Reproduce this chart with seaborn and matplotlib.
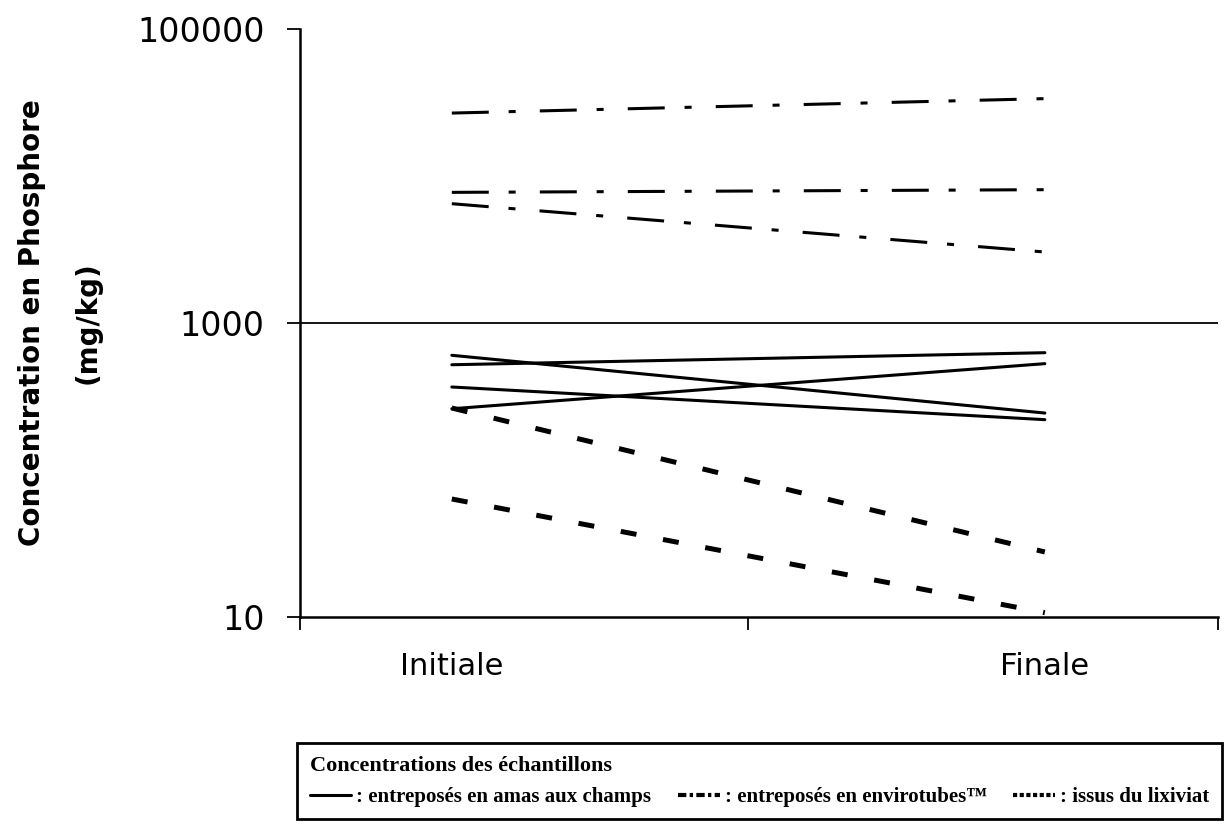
import pandas as pd
import seaborn as sns
import matplotlib.pyplot as plt
from matplotlib.lines import Line2D
from matplotlib.ticker import FixedLocator, NullLocator, FuncFormatter

# sampling steps (x positions 0 = Initiale, 1 = Finale)
etapes = ['Initiale', 'Finale']

# phosphore concentrations (mg/kg), one value per sample
amas_initiale = [603, 520, 367, 261]
amas_finale = [244, 628, 220, 529]
envirotubes_initiale = [26800, 7740, 6480]
envirotubes_finale = [33600, 8070, 3040]
lixiviat_initiale = [264, 63.5]
lixiviat_finale = [27.7, 10.7]

groupes = ['amas', 'envirotubes', 'lixiviat']
legend_labels = [': entreposés en amas aux champs',
                 ': entreposés en envirotubes™',
                 ': issus du lixiviat']

rows = []
for g, ini, fin in [('amas', amas_initiale, amas_finale),
                    ('envirotubes', envirotubes_initiale, envirotubes_finale),
                    ('lixiviat', lixiviat_initiale, lixiviat_finale)]:
    for i, (a, b) in enumerate(zip(ini, fin)):
        rows.append({'groupe': g, 'echantillon': f'{g}{i}', 'x': 0, 'conc': a})
        rows.append({'groupe': g, 'echantillon': f'{g}{i}', 'x': 1, 'conc': b})
df = pd.DataFrame(rows)

sns.set_style('white')
plt.rcParams['font.family'] = ['DejaVu Sans']
plt.rcParams['text.color'] = 'black'
plt.rcParams['axes.labelcolor'] = 'black'
plt.rcParams['xtick.color'] = 'black'
plt.rcParams['ytick.color'] = 'black'

styles = {
    'amas': dict(lw=2.2, ls='-'),
    'envirotubes': dict(lw=2.2, ls=(0, (12.1, 6.5, 2.3, 7.9))),
    'lixiviat': dict(lw=3.6, ls=(0, (3.2, 5.4))),
}

fig = plt.figure(figsize=(12.25, 8.38), dpi=100)
ax = fig.add_axes([300 / 1225, 1 - 617 / 838, 918 / 1225, 588 / 838])
ax.set_yscale('log')

for g in groupes:
    sns.lineplot(data=df[df['groupe'] == g], x='x', y='conc', units='echantillon',
                 estimator=None, color='black', linewidth=styles[g]['lw'],
                 linestyle=styles[g]['ls'], ax=ax, legend=False)

ax.axhline(1000, color='black', lw=1.3, zorder=0)

ax.set_ylim(10, 100000)
ax.set_xlim(-0.256, 1.292)

ax.set_yticks([10, 1000, 100000])
ax.yaxis.set_minor_locator(NullLocator())
ax.yaxis.set_major_formatter(FuncFormatter(lambda v, p: '%d' % v))
ax.tick_params(axis='y', left=True, direction='out', length=9.5, width=1.3, pad=16,
               labelsize=24, color='black')

ax.set_xticks([0, 1])
ax.set_xticklabels(etapes)
ax.xaxis.set_minor_locator(FixedLocator([-0.256, 0.5, 1.292]))
ax.tick_params(axis='x', which='major', bottom=True, length=0, pad=25, labelsize=22)
ax.tick_params(axis='x', which='minor', bottom=True, direction='out', length=9.5,
               width=1.3, color='black')

ax.set_xlabel('')
ax.set_ylabel('Concentration en Phosphore\n(mg/kg)', fontsize=20, fontweight='bold',
              linespacing=2.25)
ax.yaxis.set_label_coords(-0.216, 0.5)

for side in ['top', 'right']:
    ax.spines[side].set_visible(False)
for side in ['left', 'bottom']:
    ax.spines[side].set_color('black')
    ax.spines[side].set_linewidth(1.8)

handles = [Line2D([], [], color='black', lw=2.2, ls='-'),
           Line2D([], [], color='black', lw=3, ls=(0, (2, 0.8, 0.8, 0.8))),
           Line2D([], [], color='black', lw=3, ls=(0, (1, 0.6)))]
font_leg = dict(family='Liberation Serif', weight='bold', size=15)
font_title = dict(family='Liberation Serif', weight='bold', size=16)
leg = fig.legend(handles, legend_labels, loc='upper left',
                 bbox_to_anchor=(297 / 1225, 1 - 743 / 838, 925 / 1225, 0),
                 mode='expand', ncol=3, frameon=True, fancybox=False,
                 edgecolor='black', framealpha=1, borderpad=0.6, borderaxespad=0,
                 handlelength=2.0, handletextpad=0.25, columnspacing=1,
                 labelspacing=0.55,
                 title='Concentrations des échantillons', prop=font_leg,
                 title_fontproperties=font_title, alignment='left')
leg.get_frame().set_linewidth(2)

fig.savefig('out.png', dpi=100)
